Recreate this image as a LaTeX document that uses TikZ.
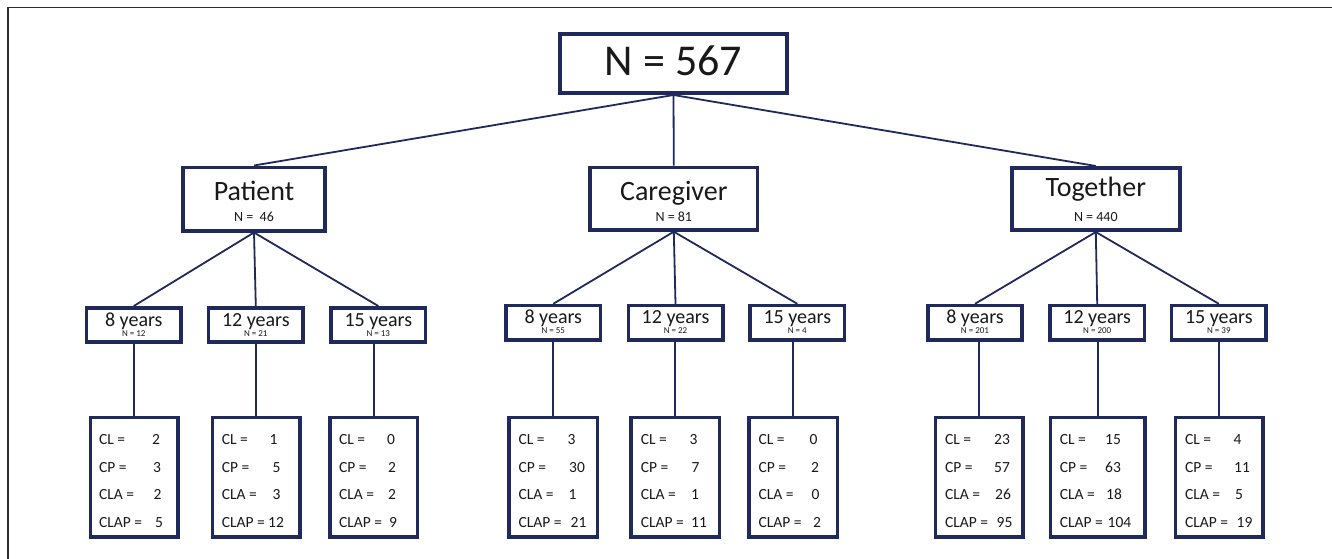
\documentclass[tikz,border=0pt]{standalone}
\usepackage{fontspec}
\setmainfont{Carlito}
\definecolor{navy}{RGB}{31,41,92}
\definecolor{txt}{RGB}{25,25,25}
\definecolor{frame}{RGB}{45,45,45}
\newcommand\mybox[5]{\node[box, minimum width={#4pt-3.6pt}, minimum height={#5pt-3.6pt}] (#1) at (#2,#3) {};}
\newcommand\drow[7]{\node[dt] (#1l#2) at (#4,#3) {#5};\node[dt] (#1v#2) at (#6,#3) {#7};}
\begin{document}
\begin{tikzpicture}[x=1pt,y=-1pt,
  box/.style={draw=navy, line width=3.6pt, fill=white, inner sep=0pt},
  conn/.style={draw=navy, line width=1.8pt},
  t/.style={anchor=base, inner sep=0pt, text=txt},
  dt/.style={anchor=base west, inner sep=0pt, text=txt, font=\fontsize{15.5}{15.5}\selectfont}]
\useasboundingbox (0,0) rectangle (1332,559);
\draw[line width=1.5pt, draw=frame] (8,559) -- (8,7.5) -- (1332,7.5);
% boxes
\mybox{top}{673.5}{63.5}{231}{63}
\mybox{pat}{254}{199}{146}{67}
\mybox{car}{673.8}{198.7}{171}{66}
\mybox{tog}{1095.8}{199}{171.7}{66}
\mybox{p8}{133.8}{325}{98}{38}
\mybox{p12}{255.8}{325}{98}{38}
\mybox{p15}{378.3}{325}{98}{38}
\mybox{c8}{553.3}{322.8}{98}{38}
\mybox{c12}{675.5}{322.8}{98}{38}
\mybox{c15}{797.3}{322.8}{98}{38}
\mybox{t8}{975}{322.8}{98}{38}
\mybox{t12}{1097.2}{322.8}{98}{38}
\mybox{t15}{1218.8}{322.8}{98}{38}
\mybox{dp8}{134}{477.3}{91}{123}
\mybox{dp12}{256}{477.3}{91}{123}
\mybox{dp15}{373.7}{477.3}{91}{123}
\mybox{dc8}{553.3}{477.3}{92}{123}
\mybox{dc12}{675.3}{477.3}{92}{123}
\mybox{dc15}{793.2}{477.3}{92}{123}
\mybox{dt8}{979}{477.3}{91}{123}
\mybox{dt12}{1097.7}{477.3}{98}{123}
\mybox{dt15}{1219}{477.3}{91}{123}
% connectors
\foreach \g in {pat,car,tog} {\draw[conn] (top.south) -- (\g.north);}
\foreach \y in {p8,p12,p15} {\draw[conn] (pat.south) -- (\y.north);}
\foreach \y in {c8,c12,c15} {\draw[conn] (car.south) -- (\y.north);}
\foreach \y in {t8,t12,t15} {\draw[conn] (tog.south) -- (\y.north);}
\foreach \y in {p8,p12,p15,c8,c12,c15,t8,t12,t15} {\draw[conn] (d\y.north) -- (d\y.north |- \y.south);}
% texts
\node[t, font=\fontsize{44}{44}\selectfont] (topt) at (673.5,76) {N = 567};
\node[t, font=\fontsize{28}{28}\selectfont] (patt) at (254,200) {Patient};
\node[t, font=\fontsize{14}{14}\selectfont] (patn) at (254,221) {N =\ \ 46};
\node[t, font=\fontsize{28}{28}\selectfont] (cart) at (673.8,200) {Caregiver};
\node[t, font=\fontsize{14}{14}\selectfont] (carn) at (673.8,221) {N = 81};
\node[t, font=\fontsize{28}{28}\selectfont] (togt) at (1095.8,196) {Together};
\node[t, font=\fontsize{14}{14}\selectfont] (togn) at (1095.8,221) {N = 440};
\foreach \n/\x/\yy/\lab/\nn in {p8/133.8/326/8/12, p12/255.8/326/12/21, p15/378.3/326/15/13,
  c8/553.3/323/8/55, c12/675.5/323/12/22, c15/797.3/323/15/4,
  t8/975/323/8/201, t12/1097.2/323/12/200, t15/1218.8/323/15/39} {
  \node[t, font=\fontsize{20}{20}\selectfont] (\n t) at (\x,\yy) {\lab{} years};
  \node[t, font=\fontsize{9}{9}\selectfont] (\n n) at (\x,\yy+10) {N = \nn};
}
% data rows
\drow{dp8}{1}{444}{99}{CL =}{152}{2}
\drow{dp8}{2}{472}{99}{CP =}{153}{3}
\drow{dp8}{3}{499.5}{99}{CLA =}{153.5}{2}
\drow{dp8}{4}{527}{99}{CLAP =}{155}{5}
\drow{dp12}{1}{444}{221.7}{CL =}{269.5}{1}
\drow{dp12}{2}{472}{221.7}{CP =}{272.5}{5}
\drow{dp12}{3}{499.5}{221.7}{CLA =}{272.5}{3}
\drow{dp12}{4}{527}{221.7}{CLAP =}{268}{12}
\drow{dp15}{1}{444}{339}{CL =}{387}{0}
\drow{dp15}{2}{472}{339}{CP =}{388}{2}
\drow{dp15}{3}{499.5}{339}{CLA =}{388}{2}
\drow{dp15}{4}{527}{339}{CLAP =}{389}{9}
\drow{dc8}{1}{444}{518.5}{CL =}{567.5}{3}
\drow{dc8}{2}{472}{518.5}{CP =}{569}{30}
\drow{dc8}{3}{499.5}{518.5}{CLA =}{568.5}{1}
\drow{dc8}{4}{527}{518.5}{CLAP =}{570.5}{21}
\drow{dc12}{1}{444}{640.7}{CL =}{689.5}{3}
\drow{dc12}{2}{472}{640.7}{CP =}{691.5}{7}
\drow{dc12}{3}{499.5}{640.7}{CLA =}{691}{1}
\drow{dc12}{4}{527}{640.7}{CLAP =}{691}{11}
\drow{dc15}{1}{444}{758.3}{CL =}{809.5}{0}
\drow{dc15}{2}{472}{758.3}{CP =}{811}{2}
\drow{dc15}{3}{499.5}{758.3}{CLA =}{811.5}{0}
\drow{dc15}{4}{527}{758.3}{CLAP =}{813}{2}
\drow{dt8}{1}{444}{945}{CL =}{994}{23}
\drow{dt8}{2}{472}{945}{CP =}{994}{57}
\drow{dt8}{3}{499.5}{945}{CLA =}{995}{26}
\drow{dt8}{4}{527}{945}{CLAP =}{996.5}{95}
\drow{dt12}{1}{444}{1059.7}{CL =}{1105}{15}
\drow{dt12}{2}{472}{1059.7}{CP =}{1105}{63}
\drow{dt12}{3}{499.5}{1059.7}{CLA =}{1106}{18}
\drow{dt12}{4}{527}{1059.7}{CLAP =}{1107.5}{104}
\drow{dt15}{1}{444}{1185}{CL =}{1233.5}{4}
\drow{dt15}{2}{472}{1185}{CP =}{1234}{11}
\drow{dt15}{3}{499.5}{1185}{CLA =}{1235}{5}
\drow{dt15}{4}{527}{1185}{CLAP =}{1236.5}{19}
\end{tikzpicture}
\end{document}
